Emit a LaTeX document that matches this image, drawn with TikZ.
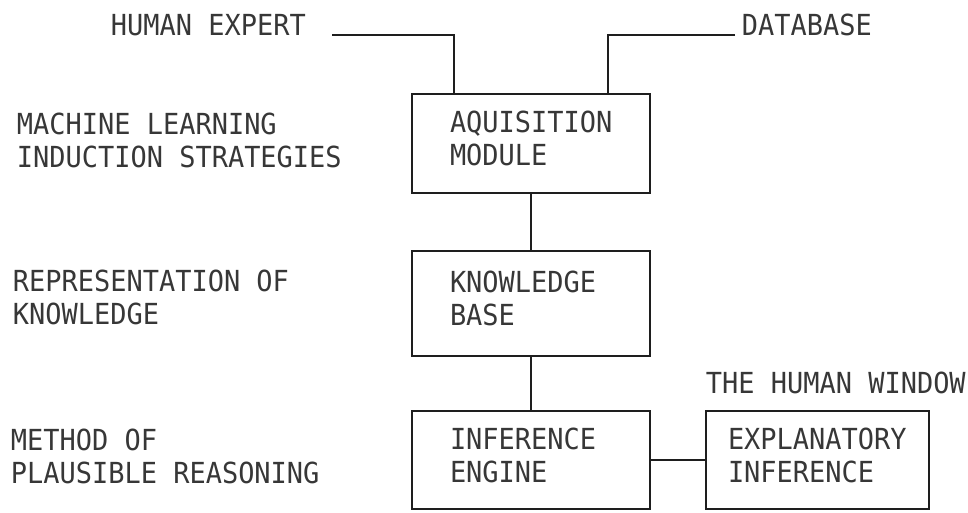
\documentclass[tikz,border=0pt]{standalone}
\usepackage{fontspec}
\newfontfamily\plotter[FakeStretch=0.93]{DejaVu Sans Mono}
\definecolor{plotInk}{RGB}{30,30,30}
\definecolor{plotText}{RGB}{55,55,55}
\usetikzlibrary{positioning}

\begin{document}
\begin{tikzpicture}[x=1pt, y=-1pt, line width=1.9pt, color=plotInk,
    every node/.style={font=\plotter\fontsize{29}{33}\selectfont, text=plotText},
    modbox/.style={rectangle, draw=plotInk, line width=1.9pt, align=left, inner ysep=0pt, outer sep=0pt, text depth=43pt},
    caption/.style={align=left, inner sep=0pt, anchor=west}]
    \useasboundingbox (0,0) rectangle (968,512);

    \node[modbox, text width=162pt, inner xsep=38pt, minimum height=99pt, anchor=north west] (acq) at (412,94) {AQUISITION\\MODULE};

    \node[modbox, text width=162pt, inner xsep=38pt, minimum height=105pt, below=58pt of acq] (kb) {KNOWLEDGE\\BASE};

    \node[modbox, text width=162pt, inner xsep=38pt, minimum height=98pt, below=55pt of kb] (engine) {INFERENCE\\ENGINE};

    \node[modbox, text width=179pt, inner xsep=22pt, minimum height=98pt, right=56pt of engine] (explain) {EXPLANATORY\\INFERENCE};

    \node[caption] (expert) at (110,25) {HUMAN EXPERT};
    \node[caption] (database) at (741,25) {DATABASE};
    \node[caption] (window) at (705,383) {THE HUMAN WINDOW};

    \node[caption] (mlearn) at (16,140) {MACHINE LEARNING\\INDUCTION STRATEGIES};
    \node[caption] (repr) at (12,297) {REPRESENTATION OF\\KNOWLEDGE};
    \node[caption] (method) at (10,456) {METHOD OF\\PLAUSIBLE REASONING};

    \coordinate (expertwire) at (332,35);
    \coordinate (dbwire) at (735,35);

    \draw (expertwire) -| ([xshift=42pt]acq.north west);
    \draw (dbwire) -| ([xshift=-42pt]acq.north east);
    \draw (acq) -- (kb);
    \draw (kb) -- (engine);
    \draw (engine) -- (explain);
\end{tikzpicture}
\end{document}
